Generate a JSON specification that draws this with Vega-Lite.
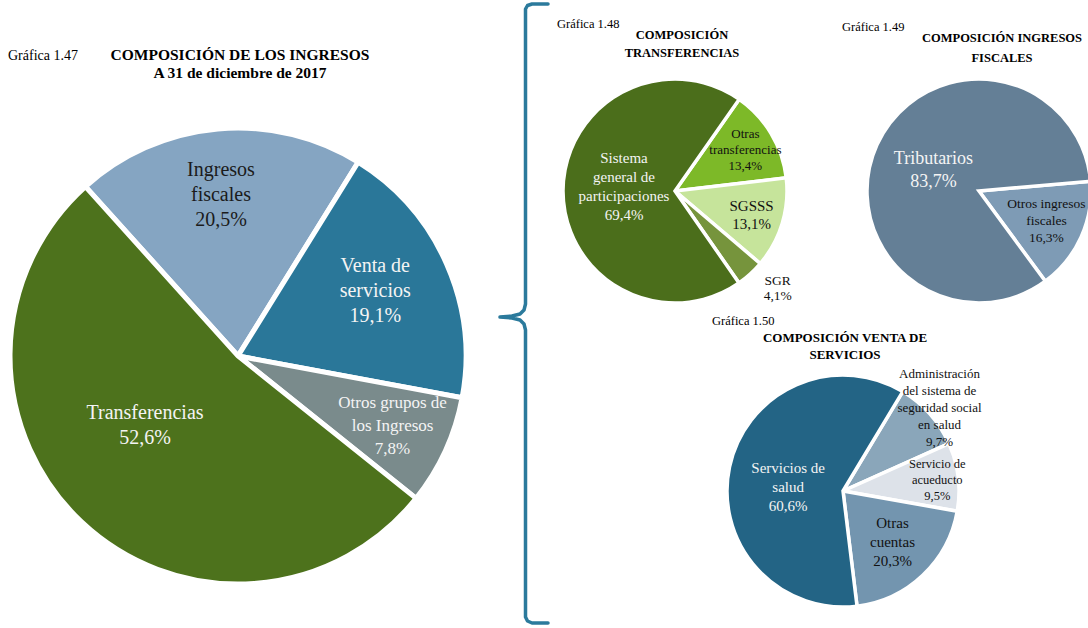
{
  "$schema": "https://vega.github.io/schema/vega-lite/v6.json",
  "background": "white",
  "padding": 0,
  "autosize": {"type": "pad"},
  "spacing": 0,
  "resolve": {"scale": {"color": "independent", "theta": "independent"}},
  "config": {
    "view": {"stroke": null},
    "title": {"font": "Liberation Serif", "color": "#000000", "fontWeight": "bold"},
    "text": {"font": "Liberation Serif"}
  },
  "hconcat": [
    {
      "spacing": 0,
      "resolve": {"scale": {"color": "independent", "theta": "independent"}},
      "vconcat": [
        {
          "spacing": 0,
          "hconcat": [
            {
              "width": 100, "height": 118,
              "data": {"values": []},
              "mark": "point",
              "title": {"text": "Gráfica 1.47", "orient": "bottom", "anchor": "start", "offset": -69, "dx": 8, "fontSize": 14, "fontWeight": "normal"}
            },
            {
              "width": 376, "height": 118,
              "data": {"values": []},
              "mark": "point",
              "title": {"text": ["COMPOSICIÓN DE LOS INGRESOS", "A 31 de diciembre  de 2017"], "orient": "bottom", "anchor": "middle", "offset": -70, "dx": -48, "fontSize": 15.5, "lineHeight": 18}
            }
          ]
        },
        {
          "width": 476, "height": 464,
          "data": {"values": [
            {"categoria": "Ingresos fiscales", "valor": 20.5, "orden": 1, "etiqueta": ["Ingresos", "fiscales", "20,5%"]},
            {"categoria": "Venta de servicios", "valor": 19.1, "orden": 2, "etiqueta": ["Venta de", "servicios", "19,1%"]},
            {"categoria": "Otros grupos de los Ingresos", "valor": 7.8, "orden": 3, "etiqueta": ["Otros grupos de", "los Ingresos", "7,8%"]},
            {"categoria": "Transferencias", "valor": 52.6, "orden": 4, "etiqueta": ["Transferencias", "52,6%"]}
          ]},
          "encoding": {
            "theta": {"field": "valor", "type": "quantitative", "stack": true, "scale": {"domain": [0, 100], "range": [-0.733, 5.5502]}},
            "order": {"field": "orden", "type": "quantitative"}
          },
          "layer": [
            {
              "mark": {"type": "arc", "outerRadius": 228, "stroke": "white", "strokeWidth": 5},
              "encoding": {"color": {"field": "categoria", "type": "nominal", "legend": null,
                "scale": {"domain": ["Ingresos fiscales", "Venta de servicios", "Otros grupos de los Ingresos", "Transferencias"], "range": ["#85A5C2", "#2A7799", "#7A8B8C", "#4D721C"]}}}
            },
            {"mark": {"type": "text", "radius": 158, "dy": -29, "dx": -3, "fontSize": 20, "lineHeight": 25, "color": "#1b1b1b", "align": "center", "baseline": "middle"},
             "encoding": {"text": {"condition": {"test": "datum.orden === 1", "field": "etiqueta"}, "value": ""}}},
            {"mark": {"type": "text", "radius": 150, "dy": -29, "fontSize": 20, "lineHeight": 25, "color": "#f4f4f4", "align": "center", "baseline": "middle"},
             "encoding": {"text": {"condition": {"test": "datum.orden === 2", "field": "etiqueta"}, "value": ""}}},
            {"mark": {"type": "text", "radius": 170, "dy": -24, "fontSize": 17, "lineHeight": 23, "color": "#f4f4f4", "align": "center", "baseline": "middle"},
             "encoding": {"text": {"condition": {"test": "datum.orden === 3", "field": "etiqueta"}, "value": ""}}},
            {"mark": {"type": "text", "radius": 118, "dy": -29, "dx": -12, "fontSize": 20, "lineHeight": 25, "color": "#f4f4f4", "align": "center", "baseline": "middle"},
             "encoding": {"text": {"condition": {"test": "datum.orden === 4", "field": "etiqueta"}, "value": ""}}}
          ]
        }
      ]
    },
    {
      "width": 80, "height": 628,
      "data": {"values": [
        {"i": 0, "bx": 72, "by": 4},
        {"i": 1, "bx": 56, "by": 4},
        {"i": 2, "bx": 51.5, "by": 5.5},
        {"i": 3, "bx": 49.5, "by": 9},
        {"i": 4, "bx": 49.5, "by": 304},
        {"i": 5, "bx": 48, "by": 310},
        {"i": 6, "bx": 44, "by": 314},
        {"i": 7, "bx": 36, "by": 316},
        {"i": 8, "bx": 24, "by": 317},
        {"i": 9, "bx": 36, "by": 318},
        {"i": 10, "bx": 44, "by": 320},
        {"i": 11, "bx": 48, "by": 324},
        {"i": 12, "bx": 49.5, "by": 330},
        {"i": 13, "bx": 49.5, "by": 617},
        {"i": 14, "bx": 51.5, "by": 621},
        {"i": 15, "bx": 56, "by": 623},
        {"i": 16, "bx": 72, "by": 623}
      ]},
      "mark": {"type": "line", "color": "#2B7A9C", "strokeWidth": 3.5, "strokeCap": "round", "strokeJoin": "round"},
      "encoding": {
        "x": {"field": "bx", "type": "quantitative", "axis": null, "scale": {"domain": [0, 80], "nice": false, "zero": false}},
        "y": {"field": "by", "type": "quantitative", "axis": null, "scale": {"domain": [0, 628], "reverse": true, "nice": false, "zero": false}},
        "order": {"field": "i", "type": "quantitative"}
      }
    },
    {
      "spacing": 0,
      "resolve": {"scale": {"color": "independent", "theta": "independent"}},
      "vconcat": [
        {
          "spacing": 0,
          "hconcat": [
            {
              "width": 66, "height": 72,
              "data": {"values": []},
              "mark": "point",
              "title": {"text": "Gráfica  1.48", "orient": "bottom", "anchor": "start", "offset": -54, "dx": 1, "fontSize": 12.5, "fontWeight": "normal"}
            },
            {
              "width": 214, "height": 72,
              "data": {"values": []},
              "mark": "point",
              "title": {"text": ["COMPOSICIÓN", "TRANSFERENCIAS"], "orient": "bottom", "anchor": "middle", "offset": -43, "dx": -48, "fontSize": 12.5, "lineHeight": 18}
            },
            {
              "width": 80, "height": 72,
              "data": {"values": []},
              "mark": "point",
              "title": {"text": "Gráfica  1.49", "orient": "bottom", "anchor": "start", "offset": -51, "dx": 5, "fontSize": 12.5, "fontWeight": "normal"}
            },
            {
              "width": 170, "height": 72,
              "data": {"values": []},
              "mark": "point",
              "title": {"text": ["COMPOSICIÓN  INGRESOS", "FISCALES"], "orient": "bottom", "anchor": "middle", "offset": -40, "dx": 0, "fontSize": 12.5, "lineHeight": 20}
            }
          ]
        },
        {
          "spacing": 66,
          "resolve": {"scale": {"color": "independent", "theta": "independent"}},
          "hconcat": [
            {
              "width": 238, "height": 236,
              "data": {"values": [
                {"categoria": "Otras transferencias", "valor": 13.4, "orden": 1, "etiqueta": ["Otras", "transferencias", "13,4%"]},
                {"categoria": "SGSSS", "valor": 13.1, "orden": 2, "etiqueta": ["SGSSS", "13,1%"]},
                {"categoria": "SGR", "valor": 4.1, "orden": 3, "etiqueta": ["SGR", "4,1%"]},
                {"categoria": "Sistema general de participaciones", "valor": 69.4, "orden": 4, "etiqueta": ["Sistema", "general  de", "participaciones", "69,4%"]}
              ]},
              "encoding": {
                "theta": {"field": "valor", "type": "quantitative", "stack": true, "scale": {"domain": [0, 100], "range": [0.6109, 6.8941]}},
                "order": {"field": "orden", "type": "quantitative"}
              },
              "layer": [
                {
                  "mark": {"type": "arc", "outerRadius": 112, "stroke": "white", "strokeWidth": 3.5},
                  "encoding": {"color": {"field": "categoria", "type": "nominal", "legend": null,
                    "scale": {"domain": ["Otras transferencias", "SGSSS", "SGR", "Sistema general de participaciones"], "range": ["#7DB928", "#C6E49B", "#76943C", "#4B6E1B"]}}}
                },
                {"mark": {"type": "text", "radius": 82, "dy": -15, "fontSize": 13, "lineHeight": 16, "color": "#111111", "align": "center", "baseline": "middle"},
                 "encoding": {"text": {"condition": {"test": "datum.orden === 1", "field": "etiqueta"}, "value": ""}}},
                {"mark": {"type": "text", "radius": 80, "dy": -8, "fontSize": 15, "lineHeight": 18, "color": "#111111", "align": "center", "baseline": "middle"},
                 "encoding": {"text": {"condition": {"test": "datum.orden === 2", "field": "etiqueta"}, "value": ""}}},
                {"mark": {"type": "text", "radius": 138, "dy": -12, "dx": 10, "clip": true, "fontSize": 13.5, "lineHeight": 15, "color": "#111111", "align": "center", "baseline": "middle"},
                 "encoding": {"text": {"condition": {"test": "datum.orden === 3", "field": "etiqueta"}, "value": ""}}},
                {"mark": {"type": "text", "radius": 40, "dy": -33, "dx": -11, "fontSize": 15, "lineHeight": 19, "color": "#f4f4f4", "align": "center", "baseline": "middle"},
                 "encoding": {"text": {"condition": {"test": "datum.orden === 4", "field": "etiqueta"}, "value": ""}}}
              ]
            },
            {
              "width": 226, "height": 236,
              "data": {"values": [
                {"categoria": "Otros ingresos fiscales", "valor": 16.3, "orden": 1, "etiqueta": ["Otros ingresos", "fiscales", "16,3%"]},
                {"categoria": "Tributarios", "valor": 83.7, "orden": 2, "etiqueta": ["Tributarios", "83,7%"]}
              ]},
              "encoding": {
                "theta": {"field": "valor", "type": "quantitative", "stack": true, "scale": {"domain": [0, 100], "range": [1.4835, 7.7667]}},
                "order": {"field": "orden", "type": "quantitative"}
              },
              "layer": [
                {
                  "mark": {"type": "arc", "outerRadius": 112, "stroke": "white", "strokeWidth": 3.5},
                  "encoding": {"color": {"field": "categoria", "type": "nominal", "legend": null,
                    "scale": {"domain": ["Otros ingresos fiscales", "Tributarios"], "range": ["#7E9BB5", "#647F96"]}}}
                },
                {"mark": {"type": "text", "radius": 74, "dy": -17, "fontSize": 13.5, "lineHeight": 17, "color": "#111111", "align": "center", "baseline": "middle"},
                 "encoding": {"text": {"condition": {"test": "datum.orden === 1", "field": "etiqueta"}, "value": ""}}},
                {"mark": {"type": "text", "radius": 50, "dy": -11, "fontSize": 18, "lineHeight": 23, "color": "#f4f4f4", "align": "center", "baseline": "middle"},
                 "encoding": {"text": {"condition": {"test": "datum.orden === 2", "field": "etiqueta"}, "value": ""}}}
              ]
            }
          ]
        },
        {
          "spacing": 0,
          "resolve": {"scale": {"color": "independent", "theta": "independent"}},
          "hconcat": [
            {
              "width": 150, "height": 10,
              "data": {"values": []},
              "mark": "point"
            },
            {
              "spacing": 0,
              "resolve": {"scale": {"color": "independent", "theta": "independent"}},
              "vconcat": [
                {
                  "width": 274, "height": 20,
                  "data": {"values": []},
                  "mark": "point",
                  "title": {"text": "Gráfica  1.50", "orient": "bottom", "anchor": "start", "offset": -15, "dx": 6, "fontSize": 12.5, "fontWeight": "normal"}
                },
                {
                  "width": 274, "height": 36,
                  "data": {"values": []},
                  "mark": "point",
                  "title": {"text": ["COMPOSICIÓN  VENTA  DE", "SERVICIOS"], "orient": "bottom", "anchor": "middle", "offset": -34, "dx": 2, "fontSize": 13, "lineHeight": 17}
                },
                {
                  "width": 274, "height": 250,
                  "data": {"values": [
                    {"categoria": "Administración del sistema de seguridad social en salud", "valor": 9.7, "orden": 1, "etiqueta": ["Administración", "del sistema de", "seguridad social", "en salud", "9,7%"]},
                    {"categoria": "Servicio de acueducto", "valor": 9.5, "orden": 2, "etiqueta": ["Servicio  de", "acueducto", "9,5%"]},
                    {"categoria": "Otras cuentas", "valor": 20.3, "orden": 3, "etiqueta": ["Otras", "cuentas", "20,3%"]},
                    {"categoria": "Servicios de salud", "valor": 60.6, "orden": 4, "etiqueta": ["Servicios  de", "salud", "60,6%"]}
                  ]},
                  "encoding": {
                    "theta": {"field": "valor", "type": "quantitative", "stack": true, "scale": {"domain": [0, 100.1], "range": [0.5411, 6.8243]}},
                    "order": {"field": "orden", "type": "quantitative"}
                  },
                  "layer": [
                    {
                      "mark": {"type": "arc", "outerRadius": 116, "stroke": "white", "strokeWidth": 3.5},
                      "encoding": {"color": {"field": "categoria", "type": "nominal", "legend": null,
                        "scale": {"domain": ["Administración del sistema de seguridad social en salud", "Servicio de acueducto", "Otras cuentas", "Servicios de salud"], "range": ["#8AA6BA", "#DDE2E9", "#7395AF", "#236485"]}}}
                    },
                    {"mark": {"type": "text", "radius": 129, "dy": -31, "fontSize": 13, "lineHeight": 17, "color": "#111111", "align": "center", "baseline": "middle"},
                     "encoding": {"text": {"condition": {"test": "datum.orden === 1", "field": "etiqueta"}, "value": ""}}},
                    {"mark": {"type": "text", "radius": 95, "dy": -15, "fontSize": 12.5, "lineHeight": 16, "color": "#111111", "align": "center", "baseline": "middle"},
                     "encoding": {"text": {"condition": {"test": "datum.orden === 2", "field": "etiqueta"}, "value": ""}}},
                    {"mark": {"type": "text", "radius": 72, "dy": -20, "fontSize": 15, "lineHeight": 19, "color": "#111111", "align": "center", "baseline": "middle"},
                     "encoding": {"text": {"condition": {"test": "datum.orden === 3", "field": "etiqueta"}, "value": ""}}},
                    {"mark": {"type": "text", "radius": 52, "dy": -12, "dx": -4, "fontSize": 15, "lineHeight": 19, "color": "#f4f4f4", "align": "center", "baseline": "middle"},
                     "encoding": {"text": {"condition": {"test": "datum.orden === 4", "field": "etiqueta"}, "value": ""}}}
                  ]
                }
              ]
            }
          ]
        }
      ]
    }
  ]
}
